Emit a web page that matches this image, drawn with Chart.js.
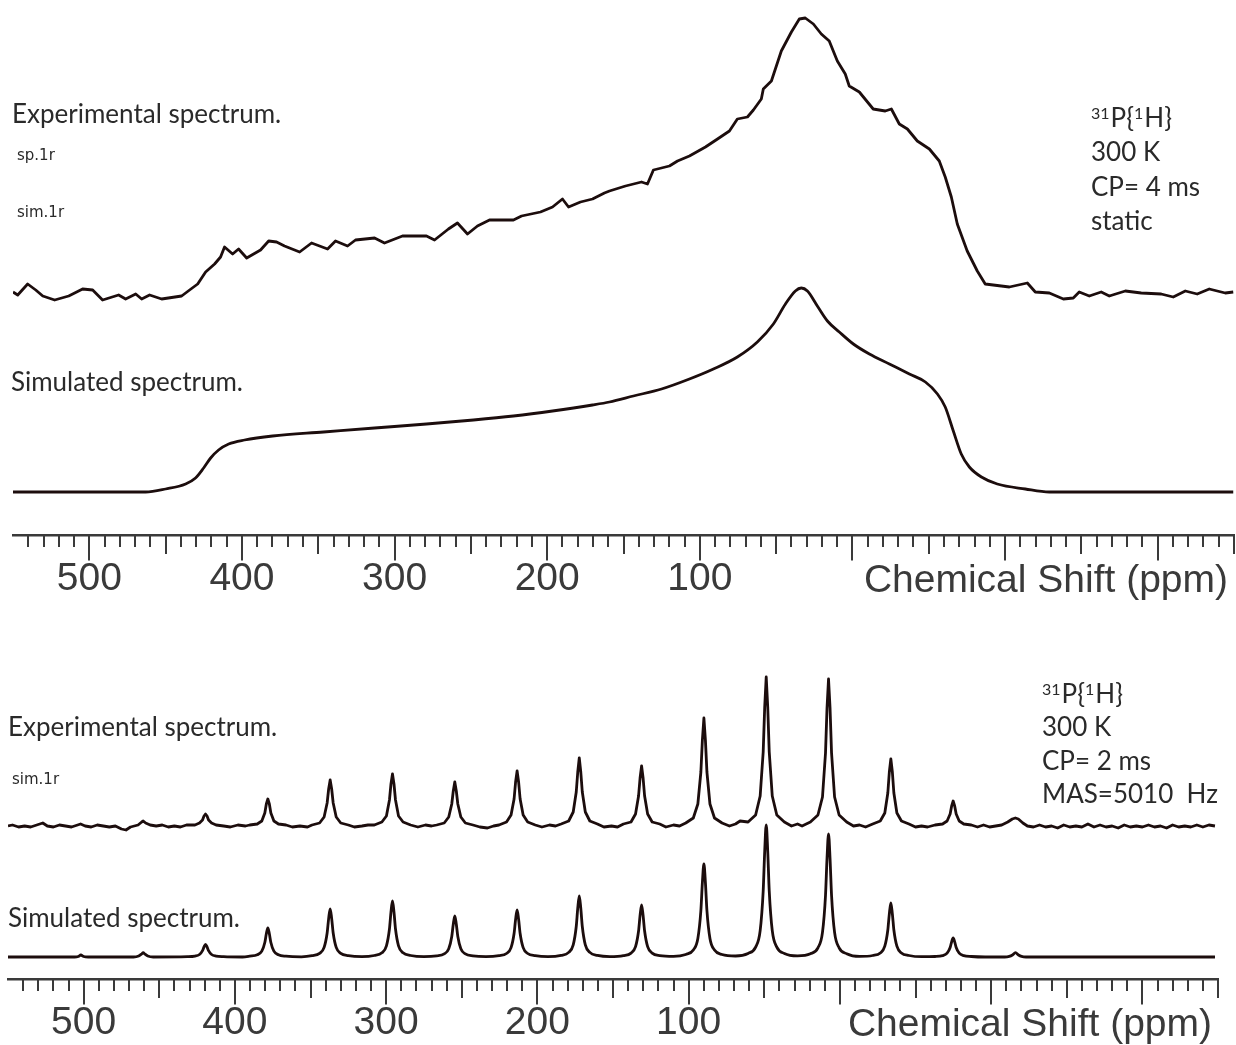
<!DOCTYPE html>
<html>
<head>
<meta charset="utf-8">
<title>31P{1H} CP spectra</title>
<script src="https://cdn.jsdelivr.net/npm/chart.js@4.4.1/dist/chart.umd.min.js"></script>
<style>
  html, body { margin: 0; padding: 0; background: #fff; }
  #page { position: relative; width: 1236px; height: 1045px; }
  canvas { display: block; }
</style>
</head>
<body>
<div id="page">
  <canvas id="graficaEstatica" width="1236" height="610"></canvas>
  <canvas id="graficaMAS" width="1236" height="435"></canvas>
</div>
<script>

// ===============================
// DATA  [ppm, intensity]  (traces stacked, arbitrary units)
// ===============================

const majorTicks = [500, 400, 300, 200, 100, 0, -100, -200];
const tickLabels = [500, 400, 300, 200, 100];

// static CP spectrum, experimental
const staticExp = [
  [550, 243], [546.9, 240], [540.4, 251], [535.1, 245], [530.5, 239], [522.7, 235], [513.5, 239],
  [504.4, 246], [497.8, 245], [491.3, 235], [480.8, 240], [476.2, 236], [469.6, 241], [465.7, 236],
  [460.5, 240], [452.6, 236], [439.5, 239], [434.3, 245], [429.0, 251], [423.8, 263], [417.9, 271],
  [414.0, 278], [411.4, 288], [406.1, 281], [402.2, 286], [396.9, 277], [387.8, 285], [382.5, 294],
  [377.3, 293], [372.1, 289], [362.2, 283], [354.4, 292], [343.9, 286], [338.7, 294], [330.8, 289],
  [325.6, 295], [313.1, 297], [306.6, 292], [294.8, 299], [279.1, 299], [273.8, 295], [264.7, 306],
  [258.8, 312], [252.2, 301], [245.7, 309], [237.8, 315], [222.1, 315], [216.8, 319], [204.4, 323],
  [196.5, 328], [190.0, 336], [186.0, 328], [178.2, 333], [170.3, 336], [162.5, 342], [159.2, 344],
  [148.7, 349], [138.2, 353], [134.3, 351], [130.4, 365], [119.9, 369], [114.6, 374], [106.8, 379],
  [96.3, 388], [88.4, 396], [80.6, 404], [75.4, 416], [68.8, 418], [64.9, 425], [59.7, 436],
  [58.4, 446], [53.1, 454], [46.6, 484], [40.0, 503], [34.8, 516], [30.9, 517], [25.6, 511],
  [20.4, 501], [15.2, 494], [9.9, 474], [4.7, 461], [2.1, 449], [-4.5, 443], [-13.6, 426],
  [-21.5, 424], [-25.5, 426], [-30.7, 411], [-36.0, 406], [-42.5, 394], [-50.4, 386], [-56.9, 374],
  [-60.8, 358], [-64.8, 338], [-68.7, 311], [-75.2, 284], [-81.8, 264], [-87.0, 251], [-97.5, 249],
  [-102.8, 248], [-114.6, 252], [-119.8, 243], [-129.0, 242], [-138.2, 236], [-144.7, 237],
  [-148.6, 243], [-155.2, 239], [-163.0, 243], [-168.3, 239], [-178.8, 244], [-189.2, 242],
  [-202.3, 241], [-210.2, 238], [-218.1, 244], [-225.9, 241], [-233.8, 246], [-244.3, 242], [-249.5, 243]
];

// static CP spectrum, simulated
const staticSim = [
  [550, 43], [463.1, 43], [450.0, 46], [436.9, 51], [430.4, 57], [425.1, 67], [420.5, 77],
  [415.3, 85], [408.7, 91], [398.3, 95], [379.9, 99], [346.5, 103], [313.1, 107], [279.1, 111],
  [248.3, 115], [222.1, 119], [196.5, 124], [170.3, 130], [159.2, 133], [143.5, 139], [125.1, 146],
  [106.8, 156], [91.1, 166], [75.4, 178], [62.3, 193], [51.8, 211], [43.9, 231], [37.4, 244],
  [33.5, 247], [29.5, 244], [23.0, 229], [16.4, 214], [8.6, 203], [-0.6, 191], [-11.1, 181],
  [-24.2, 171], [-37.3, 161], [-47.8, 153], [-55.7, 141], [-60.8, 128], [-66.1, 104], [-71.3, 81],
  [-76.6, 68], [-84.5, 58], [-94.9, 51], [-113.3, 46], [-129.0, 43], [-249.5, 43]
];

// MAS spectrum, experimental
const masExp = [
  [550, 153], [547, 154], [543, 152], [539, 153], [535, 152], [531, 154], [527, 156], [524, 153],
  [520, 152], [516, 154], [512, 153], [508, 152], [504, 154], [502, 155], [499, 153], [495, 152],
  [491, 154], [487, 153], [483, 152], [479, 153], [475, 150], [472, 149], [469, 152], [464, 154],
  [461.6, 157], [460.6, 158], [459, 156], [456, 154], [452, 153], [448, 154], [444, 152],
  [440, 153], [436, 152], [432, 154],
  [426.4, 154], [423.4, 156], [421.4, 159], [420.4, 163], [419.4, 165], [418.4, 163], [417.4, 159],
  [415.4, 156], [412.4, 154], [407.4, 153], [403, 152], [398, 154], [393, 153],
  [390.2, 154], [385.2, 155], [382.2, 158], [380.2, 166], [379.2, 175], [378.2, 180], [377.2, 175],
  [376.2, 166], [374.2, 158], [371.2, 155], [366.2, 154], [362, 152], [357, 153], [352, 152],
  [349, 154], [344, 156], [341, 162], [339, 176], [338, 190], [337, 199], [336, 190], [335, 176],
  [333, 162], [330, 156], [325, 154], [321, 152], [316, 153], [312, 154],
  [307.8, 154], [302.8, 157], [299.8, 163], [297.8, 179], [296.8, 195], [295.8, 205], [294.8, 195],
  [293.8, 179], [291.8, 163], [288.8, 157], [283.8, 154], [279, 152], [274, 154], [270, 153],
  [266.6, 154], [261.6, 156], [258.6, 162], [256.6, 175], [255.6, 188], [254.6, 197], [253.6, 188],
  [252.6, 175], [250.6, 162], [247.6, 156], [242.6, 154], [238, 152], [233, 151], [229, 153],
  [225.4, 154], [220.4, 157], [217.4, 164], [215.4, 180], [214.4, 197], [213.4, 208], [212.4, 197],
  [211.4, 180], [209.4, 164], [206.4, 157], [201.4, 154], [197, 152], [192, 154], [188, 153],
  [184.3, 155], [179.3, 158], [176.3, 167], [174.3, 187], [173.3, 207], [172.3, 221], [171.3, 207],
  [170.3, 187], [168.3, 167], [165.3, 158], [160.3, 155], [156, 152], [151, 153], [147, 152],
  [143.1, 155], [138.1, 157], [135.1, 165], [133.1, 183], [132.1, 201], [131.1, 213], [130.1, 201],
  [129.1, 183], [127.1, 165], [124.1, 157], [119.1, 155], [115, 152], [110, 154], [106, 153],
  [101.9, 156], [96.9, 161], [93.9, 175], [91.9, 207], [90.9, 239], [89.9, 261], [88.9, 239],
  [87.9, 207], [85.9, 175], [82.9, 161], [77.9, 156], [73, 153], [69, 155], [66, 158],
  [60.7, 157], [55.7, 164], [52.7, 183], [50.7, 227], [49.7, 272], [48.7, 302], [47.7, 272],
  [46.7, 227], [44.7, 183], [41.7, 164], [36.7, 157], [32, 153], [28, 155], [25, 153],
  [19.5, 157], [14.5, 164], [11.5, 182], [9.5, 226], [8.5, 271], [7.5, 300], [6.5, 271],
  [5.5, 226], [3.5, 182], [0.5, 164], [-4.5, 157], [-9, 153], [-13, 154], [-17, 152],
  [-21.7, 155], [-26.7, 158], [-29.7, 166], [-31.7, 186], [-32.7, 207], [-33.7, 220], [-34.7, 207],
  [-35.7, 186], [-37.7, 166], [-40.7, 158], [-45.7, 155], [-50, 152], [-54, 153], [-58, 152],
  [-62.9, 154], [-67.9, 155], [-70.9, 158], [-72.9, 165], [-73.9, 173], [-74.9, 178], [-75.9, 173],
  [-76.9, 165], [-78.9, 158], [-81.9, 155], [-86.9, 154], [-91, 152], [-95, 154], [-99, 152],
  [-103, 153], [-107, 154], [-111, 157], [-114, 160], [-116, 161], [-118, 160], [-121, 156],
  [-124, 153], [-128, 152], [-132, 154], [-136, 152], [-140, 153], [-144, 151], [-148, 154],
  [-152, 152], [-156, 153], [-160, 152], [-164, 155], [-168, 152], [-172, 154], [-176, 152],
  [-180, 153], [-184, 151], [-188, 154], [-192, 152], [-196, 153], [-200, 152], [-204, 154],
  [-208, 152], [-212, 153], [-216, 151], [-220, 154], [-224, 152], [-228, 153], [-232, 152],
  [-236, 154], [-240, 152], [-244, 154], [-248, 153]
];

// MAS spectrum, simulated
const masSim = [
  [550, 22], [506, 22], [503.5, 22.5], [501.8, 24], [500, 22.5], [497, 22],
  [467, 22], [463.6, 23], [461.6, 25], [460.6, 26.3], [459.6, 25], [457.6, 23], [454, 22],
  [431.4, 22.3], [426.4, 22.9], [423.4, 24.5], [421.4, 28.3], [420.4, 32.1], [419.4, 34.6],
  [418.4, 32.1], [417.4, 28.3], [415.4, 24.5], [412.4, 22.9], [407.4, 22.3], [395, 22],
  [390.2, 22.8], [385.2, 24.2], [382.2, 27.8], [380.2, 36.5], [379.2, 45.2], [378.2, 51],
  [377.2, 45.2], [376.2, 36.5], [374.2, 27.8], [371.2, 24.2], [366.2, 22.8], [356, 22.2],
  [349, 23.3], [344, 25.6], [341, 31.6], [339, 46], [338, 60.4], [337, 70], [336, 60.4],
  [335, 46], [333, 31.6], [330, 25.6], [325, 23.3], [316, 22.3],
  [307.8, 23.5], [302.8, 26.2], [299.8, 33.2], [297.8, 50], [296.8, 66.8], [295.8, 78],
  [294.8, 66.8], [293.8, 50], [291.8, 33.2], [288.8, 26.2], [283.8, 23.5], [275, 22.3],
  [266.6, 23.1], [261.6, 25.1], [258.6, 30.2], [256.6, 42.5], [255.6, 54.8], [254.6, 63],
  [253.6, 54.8], [252.6, 42.5], [250.6, 30.2], [247.6, 25.1], [242.6, 23.1], [234, 22.3],
  [225.4, 23.3], [220.4, 25.5], [217.4, 31.4], [215.4, 45.5], [214.4, 59.6], [213.4, 69],
  [212.4, 59.6], [211.4, 45.5], [209.4, 31.4], [206.4, 25.5], [201.4, 23.3], [193, 22.3],
  [184.3, 23.6], [179.3, 26.6], [176.3, 34.2], [174.3, 52.5], [173.3, 70.8], [172.3, 83],
  [171.3, 70.8], [170.3, 52.5], [168.3, 34.2], [165.3, 26.6], [160.3, 23.6], [152, 22.4],
  [143.1, 23.4], [138.1, 25.9], [135.1, 32.4], [133.1, 48], [132.1, 63.6], [131.1, 74],
  [130.1, 63.6], [129.1, 48], [127.1, 32.4], [124.1, 25.9], [119.1, 23.4], [110, 22.6],
  [101.9, 24.5], [96.9, 29], [93.9, 40.6], [91.9, 68.5], [90.9, 96.4], [89.9, 115],
  [88.9, 96.4], [87.9, 68.5], [85.9, 40.6], [82.9, 29], [77.9, 24.5], [69, 23],
  [60.7, 25.6], [55.7, 31.9], [52.7, 48.4], [50.7, 88], [49.7, 127.6], [48.7, 154],
  [47.7, 127.6], [46.7, 88], [44.7, 48.4], [41.7, 31.9], [36.7, 25.6], [28, 23.2],
  [19.5, 25.3], [14.5, 31.2], [11.5, 46.6], [9.5, 83.5], [8.5, 120.4], [7.5, 145],
  [6.5, 120.4], [5.5, 83.5], [3.5, 46.6], [0.5, 31.2], [-4.5, 25.3], [-13, 22.6],
  [-21.7, 23.5], [-26.7, 26], [-29.7, 32.8], [-31.7, 49], [-32.7, 65.2], [-33.7, 76],
  [-34.7, 65.2], [-35.7, 49], [-37.7, 32.8], [-40.7, 26], [-45.7, 23.5], [-54, 22.3],
  [-62.9, 22.5], [-67.9, 23.4], [-70.9, 25.8], [-72.9, 31.5], [-73.9, 37.2], [-74.9, 41],
  [-75.9, 37.2], [-76.9, 31.5], [-78.9, 25.8], [-81.9, 23.4], [-86.9, 22.5], [-96, 22],
  [-109, 22], [-112, 22.6], [-114.1, 24], [-116.1, 26.3], [-118.1, 24], [-120.1, 22.6], [-123, 22],
  [-248, 22]
];

// ===============================
// STYLE
// ===============================

const colorTraza = "#1c0d0d";
const colorEje = "#3a3a3a";
const colorTexto = "#2a2a2a";
const fuenteNota = "26px Lato";
const fuenteSup = "16px Lato";
const fuenteChica = "15px 'DejaVu Sans'";
const fuenteEje = "39px 'Liberation Sans'";

// nucleus label with raised isotope numbers
const nucleo = [
  { text: "31", sup: true },
  { text: "P{" },
  { text: "1", sup: true },
  { text: "H}" }
];

// text drawn over each chart
const textosPlugin = {
  id: "textos",
  afterDraw(chart, args, opts) {
    const ctx = chart.ctx;
    ctx.save();
    ctx.textBaseline = "alphabetic";
    opts.items.forEach(t => {
      ctx.fillStyle = t.color || colorTexto;
      ctx.textAlign = t.align || "left";
      if (t.parts) {
        let x = t.x;
        t.parts.forEach(p => {
          ctx.font = p.sup ? fuenteSup : fuenteNota;
          ctx.fillText(p.text, x, p.sup ? t.y - 8 : t.y);
          x += ctx.measureText(p.text).width + (p.sup ? 1 : 0);
        });
      } else {
        ctx.font = t.font || fuenteNota;
        ctx.fillText(t.text, t.x, t.y);
      }
    });
    ctx.restore();
  }
};

function puntos(lista) {
  return lista.map(p => ({ x: p[0], y: p[1] }));
}

function traza(lista, suave) {
  return {
    data: puntos(lista),
    borderColor: colorTraza,
    borderWidth: 2.8,
    pointRadius: 0,
    borderJoinStyle: "round",
    cubicInterpolationMode: suave ? "monotone" : "default",
    tension: 0
  };
}

// one ppm axis per tick size, all laid on the y = 0 line
function ejePPM(paso, largo, principal) {
  const eje = {
    type: "linear",
    axis: "x",
    position: { y: 0 },
    reverse: true,
    min: -250,
    max: 550,
    grid: {
      display: true,
      drawOnChartArea: false,
      drawTicks: true,
      tickLength: largo,
      color: colorEje,
      lineWidth: 2,
      // no mark on the left end of the axis
      tickColor: c => (c.tick && c.tick.value >= 550 ? "rgba(0,0,0,0)" : colorEje)
    },
    border: { display: principal, color: colorEje, width: 2.5 },
    ticks: {
      stepSize: paso,
      autoSkip: false,
      includeBounds: false,
      display: principal,
      maxRotation: 0,
      padding: 1,
      color: colorEje,
      font: { family: "'Liberation Sans'", size: 39, lineHeight: 1 },
      callback: v => (tickLabels.includes(v) ? String(v) : "")
    }
  };
  if (principal) {
    eje.afterBuildTicks = axis => {
      axis.ticks = majorTicks.map(v => ({ value: v }));
    };
  }
  return eje;
}

function opcionesBase(alto, padding, textos) {
  return {
    responsive: false,
    animation: false,
    events: [],
    layout: { padding: padding },
    plugins: {
      legend: { display: false },
      tooltip: { enabled: false },
      textos: { items: textos }
    },
    scales: {
      x10: ejePPM(10, 12, false),
      x50: ejePPM(50, 19, false),
      x: ejePPM(100, 24, true),
      y: { type: "linear", display: false, min: 0, max: alto }
    }
  };
}

// ===============================
// STATIC SPECTRUM
// ===============================

function generarEstatico() {

  const textos = [
    { text: "Experimental spectrum.", x: 12, y: 123 },
    { text: "sp.1r", x: 17, y: 160, font: fuenteChica },
    { text: "sim.1r", x: 17, y: 217, font: fuenteChica },
    { text: "Simulated spectrum.", x: 11, y: 391 },
    { parts: nucleo, x: 1091, y: 127 },
    { text: "300 K", x: 1091, y: 161 },
    { text: "CP= 4 ms", x: 1091, y: 196 },
    { text: "static", x: 1091, y: 230 },
    { text: "Chemical Shift (ppm)", x: 1228, y: 592, align: "right", font: fuenteEje, color: colorEje }
  ];

  new Chart(document.getElementById("graficaEstatica"), {
    type: "line",
    data: {
      datasets: [traza(staticExp, false), traza(staticSim, true)]
    },
    options: opcionesBase(535, { left: 13, right: 2, top: 0, bottom: 75 }, textos),
    plugins: [textosPlugin]
  });
}

// ===============================
// MAS SPECTRUM
// ===============================

function generarMAS() {

  const textos = [
    { text: "Experimental spectrum.", x: 8, y: 126 },
    { text: "sim.1r", x: 12, y: 174, font: fuenteChica },
    { text: "Simulated spectrum.", x: 8, y: 317 },
    { parts: nucleo, x: 1042, y: 93 },
    { text: "300 K", x: 1042, y: 126 },
    { text: "CP= 2 ms", x: 1042, y: 160 },
    { text: "MAS=5010  Hz", x: 1042, y: 193 },
    { text: "Chemical Shift (ppm)", x: 1212, y: 426, align: "right", font: fuenteEje, color: colorEje }
  ];

  new Chart(document.getElementById("graficaMAS"), {
    type: "line",
    data: {
      datasets: [traza(masExp, false), traza(masSim, true)]
    },
    options: opcionesBase(369, { left: 8, right: 18, top: 0, bottom: 66 }, textos),
    plugins: [textosPlugin]
  });
}

generarEstatico();
generarMAS();

</script>
</body>
</html>
